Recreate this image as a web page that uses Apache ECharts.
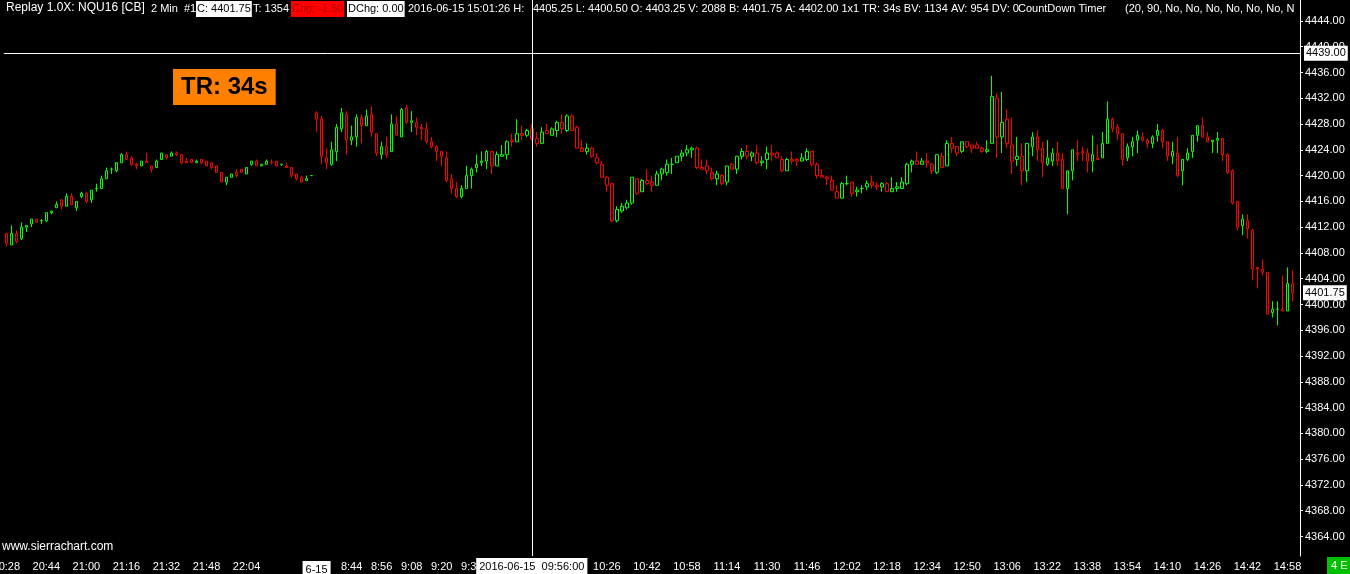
<!DOCTYPE html>
<html><head><meta charset="utf-8">
<script src="https://cdn.jsdelivr.net/npm/echarts@6/dist/echarts.min.js"></script>
<style>html,body{margin:0;padding:0;background:#000;}#c{width:1350px;height:574px;}</style>
</head><body><div id="c"></div>
<script>
// sessions: start time and number of 2-minute bars
const sessionStarts = ['20:28', '08:30'];
const sessionBars = [62, 196];

const opens = [
4411.0,4409.25,4411.0,4410.25,4412.0,4412.5,4413.25,4413.0,4413.0,4414.25,
4415.0,4416.25,4415.25,4416.75,4415.0,4416.75,4417.25,4416.25,4418.0,4418.0,
4419.5,4421.0,4420.75,4422.0,4423.25,4422.75,4421.75,4421.5,4422.25,4421.5,
4421.25,4422.5,4423.25,4423.0,4423.5,4423.25,4422.25,4422.5,4422.0,4422.5,
4422.25,4422.0,4421.5,4420.5,4419.0,4419.75,4420.5,4421.0,4420.25,4421.75,
4422.25,4421.5,4421.75,4422.0,4422.25,4421.75,4421.5,4421.25,4420.25,4419.75,
4419.25,4420.0,
4429.75,4428.75,4422.75,4421.75,4423.75,4427.25,4429.5,4425.5,4426.0,4429.0,
4427.75,4429.5,4426.5,4423.25,4424.5,4423.75,4428.0,4426.0,4430.5,4428.25,
4428.25,4427.5,4427.25,4425.25,4424.5,4423.75,4422.75,4419.5,4418.0,4416.75,
4418.0,4420.0,4421.25,4422.0,4422.25,4423.75,4421.5,4423.0,4423.25,4425.5,
4425.25,4426.5,4426.25,4427.25,4425.75,4425.0,4427.0,4426.25,4427.0,4428.25,
4427.0,4429.25,4427.5,4424.25,4423.75,4424.25,4422.75,4421.75,4419.75,4418.75,
4413.0,4414.5,4415.0,4415.75,4419.5,4417.5,4419.25,4419.0,4418.5,4420.25,
4420.5,4421.75,4422.0,4423.0,4423.5,4424.0,4424.25,4421.25,4421.5,4420.5,
4419.5,4420.0,4419.0,4421.75,4421.0,4423.0,4423.75,4423.0,4423.5,4422.0,
4422.5,4423.5,4423.5,4422.5,4420.75,4422.5,4422.5,4422.25,4422.5,4423.75,
4421.75,4420.0,4419.75,4419.25,4417.5,4416.5,4418.75,4419.0,4417.5,4418.0,
4418.25,4419.0,4418.5,4418.25,4418.75,4417.5,4418.0,4418.0,4418.75,4421.75,
4422.25,4421.75,4422.25,4421.75,4420.5,4423.0,4421.5,4425.0,4424.5,4423.75,
4425.25,4424.75,4424.75,4424.25,4423.75,4425.0,4432.0,4426.0,4428.75,4424.75,
4422.5,4423.0,4420.75,4424.5,4426.0,4424.25,4421.75,4422.25,4423.5,4422.5,
4418.0,4420.75,4423.5,4423.75,4423.5,4422.25,4422.75,4422.75,4425.0,4428.75,
4427.5,4426.5,4422.75,4424.5,4425.5,4426.0,4425.5,4425.0,4426.25,4427.0,
4425.25,4423.0,4423.5,4420.75,4422.5,4423.75,4426.25,4427.75,4426.0,4425.25,
4425.5,4425.75,4423.25,4420.75,4416.0,4412.25,4413.0,4411.5,4405.75,4405.5,
4405.0,4398.75,4399.25,4399.25,4399.0,4403.25
];
const closes = [
4409.5,4411.0,4409.75,4412.0,4412.25,4413.25,4412.75,4413.0,4414.25,4414.5,
4415.5,4415.25,4416.75,4415.5,4416.0,4417.25,4416.0,4417.75,4418.0,4419.5,
4420.75,4421.0,4422.0,4423.25,4422.5,4421.75,4421.5,4422.25,4422.0,4421.0,
4422.25,4423.5,4422.75,4423.5,4423.25,4422.0,4422.0,4422.0,4422.25,4422.0,
4421.5,4421.25,4420.5,4419.0,4419.75,4420.25,4420.0,4420.5,4421.25,4422.25,
4421.5,4421.75,4422.25,4422.0,4421.5,4421.75,4421.25,4420.0,4419.5,4419.0,
4419.5,4420.0,
4428.75,4423.0,4422.0,4424.0,4427.5,4429.75,4425.5,4426.0,4429.0,4427.75,
4429.25,4426.75,4423.5,4424.5,4423.25,4428.0,4426.25,4430.25,4428.25,4428.5,
4427.5,4427.25,4425.25,4424.5,4423.75,4423.0,4419.25,4418.0,4416.75,4418.0,
4420.0,4421.0,4421.75,4422.25,4423.75,4421.5,4423.25,4423.25,4425.25,4425.25,
4426.5,4426.25,4427.0,4425.75,4425.0,4426.75,4426.5,4427.25,4428.25,4427.25,
4429.25,4427.0,4424.25,4423.75,4424.25,4423.0,4422.0,4419.75,4418.5,4413.0,
4414.75,4415.25,4415.75,4419.75,4417.25,4419.25,4418.75,4418.5,4420.25,4421.0,
4421.75,4421.75,4423.0,4423.5,4424.0,4424.25,4421.25,4421.0,4420.75,4419.5,
4420.25,4418.75,4421.5,4421.0,4423.0,4423.75,4423.0,4423.5,4422.0,4422.25,
4423.5,4423.25,4422.75,4420.75,4422.5,4422.25,4422.25,4422.75,4423.75,4421.75,
4420.0,4419.75,4419.5,4417.75,4416.5,4418.75,4418.75,4417.25,4417.75,4418.0,
4418.75,4418.5,4418.25,4418.75,4417.5,4418.0,4418.25,4419.0,4421.75,4422.25,
4421.75,4422.25,4422.0,4420.75,4423.25,4421.25,4425.0,4424.25,4423.5,4425.25,
4424.5,4424.25,4424.25,4423.75,4424.0,4432.25,4426.0,4428.25,4425.0,4422.25,
4423.0,4420.75,4425.0,4426.0,4424.0,4422.0,4422.75,4423.5,4422.25,4418.0,
4420.75,4424.0,4423.25,4423.5,4422.25,4423.25,4422.5,4425.0,4428.75,4427.25,
4426.5,4422.5,4424.5,4425.25,4426.25,4425.5,4425.0,4426.0,4427.0,4425.25,
4423.0,4423.75,4420.0,4422.5,4423.5,4426.25,4427.75,4426.0,4425.25,4425.5,
4425.75,4423.25,4420.5,4415.75,4412.0,4413.25,4411.75,4405.5,4405.5,4405.0,
4398.5,4399.25,4399.25,4399.0,4403.25,4401.75
];
const lows = [
4409.0,4409.25,4409.5,4410.0,4411.25,4412.0,4412.75,4412.5,4412.75,4414.0,
4415.0,4414.75,4415.25,4415.5,4414.5,4416.5,4415.75,4415.75,4417.5,4418.0,
4419.5,4420.25,4420.5,4422.0,4422.5,4421.5,4421.0,4421.5,4422.0,4420.5,
4421.25,4422.5,4422.5,4423.0,4423.0,4421.75,4422.0,4422.0,4422.0,4421.75,
4421.5,4421.0,4420.5,4419.0,4418.5,4419.75,4419.75,4420.5,4420.25,4421.5,
4421.5,4421.5,4421.75,4421.75,4421.5,4421.5,4421.25,4419.75,4419.25,4419.0,
4419.25,4420.0,
4426.75,4421.75,4421.0,4421.5,4422.25,4426.75,4423.25,4424.75,4424.5,4425.0,
4427.75,4426.0,4423.0,4422.5,4422.75,4423.75,4426.25,4426.0,4428.0,4426.75,
4426.25,4425.5,4425.0,4424.25,4422.25,4421.5,4419.0,4417.25,4416.5,4416.5,
4418.0,4418.0,4420.5,4421.5,4421.0,4420.25,4421.5,4423.0,4422.5,4424.5,
4425.25,4425.5,4426.0,4425.5,4424.5,4425.0,4426.5,4426.25,4426.0,4426.5,
4426.75,4427.0,4424.25,4423.75,4423.25,4422.75,4421.75,4419.75,4417.5,4412.75,
4412.75,4414.25,4414.75,4415.5,4417.0,4417.5,4418.5,4417.5,4418.5,4419.25,
4420.0,4420.25,4422.0,4422.25,4423.0,4422.75,4421.0,4421.0,4420.25,4419.25,
4418.5,4418.5,4418.5,4421.0,4420.25,4422.5,4422.5,4422.25,4421.75,4421.5,
4421.0,4422.25,4422.75,4420.5,4420.75,4421.75,4421.5,4422.25,4422.25,4421.5,
4419.5,4419.75,4418.5,4417.75,4416.5,4416.5,4418.5,4416.75,4416.75,4417.25,
4417.75,4418.0,4417.75,4417.5,4417.5,4417.5,4417.5,4418.0,4418.5,4420.5,
4421.75,4421.75,4421.25,4420.25,4420.25,4421.25,4421.5,4423.5,4423.0,4423.5,
4424.25,4423.5,4424.25,4423.5,4423.5,4425.0,4422.75,4423.5,4424.25,4420.25,
4421.5,4418.5,4419.0,4423.0,4422.25,4419.75,4421.5,4421.5,4421.5,4418.0,
4414.0,4419.25,4422.25,4422.25,4420.5,4420.5,4422.5,4422.75,4425.0,4426.75,
4425.5,4421.5,4422.25,4423.0,4423.5,4425.25,4424.25,4424.25,4425.25,4424.25,
4422.25,4421.75,4419.75,4418.5,4422.25,4422.75,4425.25,4426.0,4425.25,4423.5,
4423.5,4422.25,4420.25,4415.5,4411.5,4410.75,4410.25,4403.75,4402.5,4404.5,
4398.5,4398.0,4396.75,4399.0,4399.0,4400.5
];
const highs = [
4411.0,4412.25,4411.5,4412.75,4412.25,4413.25,4413.25,4413.25,4414.25,4414.5,
4416.0,4416.25,4417.25,4417.25,4416.0,4417.5,4417.5,4417.75,4418.75,4420.0,
4421.25,4421.25,4422.0,4423.5,4423.75,4423.0,4422.0,4422.25,4423.5,4421.5,
4422.5,4423.5,4423.25,4423.75,4423.75,4423.25,4422.75,4422.5,4422.5,4422.5,
4422.25,4422.0,4421.5,4420.5,4419.75,4420.25,4421.0,4421.0,4421.25,4422.25,
4422.5,4421.75,4422.5,4422.5,4422.25,4421.75,4422.0,4421.25,4420.25,4420.0,
4420.0,4420.0,
4430.0,4429.25,4424.25,4425.25,4428.0,4430.5,4430.0,4427.75,4429.5,4429.5,
4430.25,4430.75,4426.5,4425.25,4426.0,4429.5,4429.25,4430.5,4431.0,4430.0,
4429.0,4428.0,4428.25,4426.0,4424.75,4423.75,4423.75,4420.25,4419.0,4418.5,
4421.5,4421.25,4423.25,4423.75,4424.0,4423.75,4423.75,4424.75,4425.5,4426.5,
4428.75,4427.75,4427.25,4428.0,4426.75,4427.5,4428.0,4427.5,4428.5,4429.5,
4429.5,4429.5,4427.75,4425.5,4425.0,4424.5,4423.5,4422.25,4420.0,4418.75,
4415.25,4415.75,4416.25,4419.75,4419.5,4419.5,4421.0,4420.0,4420.75,4421.25,
4422.5,4422.75,4423.0,4424.0,4424.75,4424.5,4424.5,4422.5,4422.5,4421.25,
4420.75,4420.25,4421.5,4422.0,4423.0,4424.25,4424.75,4423.75,4424.75,4423.0,
4424.5,4424.75,4423.75,4423.0,4422.75,4423.75,4422.75,4423.5,4424.25,4423.75,
4422.0,4421.0,4420.0,4420.0,4418.5,4419.0,4420.0,4419.0,4418.25,4418.5,
4419.25,4420.0,4419.0,4419.0,4419.0,4419.75,4419.0,4419.75,4422.0,4422.5,
4423.75,4422.75,4423.5,4422.0,4423.25,4423.5,4425.5,4426.0,4424.5,4425.25,
4425.25,4424.75,4425.25,4424.5,4425.5,4435.5,4432.75,4433.0,4430.25,4429.0,
4426.0,4425.0,4425.0,4426.75,4427.0,4425.25,4425.5,4424.25,4425.25,4423.5,
4420.75,4424.0,4425.5,4424.5,4424.25,4426.25,4424.75,4426.75,4431.5,4429.0,
4428.0,4426.5,4425.0,4426.0,4427.0,4426.75,4425.75,4426.25,4428.0,4427.25,
4425.25,4425.25,4426.0,4422.5,4424.25,4426.25,4427.75,4429.0,4426.75,4425.5,
4426.75,4425.75,4423.5,4421.0,4416.0,4414.0,4414.0,4411.75,4405.75,4407.0,
4405.0,4400.5,4400.5,4404.5,4405.75,4405.25
];

// axis tick labels: category time -> shown text
const tickTimes = ['20:28','20:44','21:00','21:16','21:32','21:48','22:04','08:30','08:44','08:56','09:08','09:20','09:32',
  '10:26','10:42','10:58','11:14','11:30','11:46','12:02','12:18','12:34','12:50','13:06','13:22','13:38','13:54','14:10','14:26','14:42','14:58'];
const tickTexts = ['20:28','20:44','21:00','21:16','21:32','21:48','22:04','6-15','8:44','8:56','9:08','9:20','9:32',
  '10:26','10:42','10:58','11:14','11:30','11:46','12:02','12:18','12:34','12:50','13:06','13:22','13:38','13:54','14:10','14:26','14:42','14:58'];
const priceTicks = [4364,4368,4372,4376,4380,4384,4388,4392,4396,4400,4404,4408,4412,4416,4420,4424,4428,4432,4436,4440,4444];

const cursorTime = '09:56';
const cursorLabel = '2016-06-15  09:56:00';
const cursorPrice = 4439.00;

// build categories
function pad(n){return (n<10?'0':'')+n;}
const categories = [];
sessionStarts.forEach((s, si) => {
  let [h, m] = s.split(':').map(Number);
  let t = h * 60 + m;
  for (let i = 0; i < sessionBars[si]; i++) {
    const tt = t + 2 * i;
    categories.push(pad(Math.floor(tt / 60) % 24) + ':' + pad(tt % 60));
  }
});
const cats = categories.concat(['']);
const tickMap = {};
tickTimes.forEach((t, i) => tickMap[t] = tickTexts[i]);

const candleData = opens.map((o, i) => [o, closes[i], lows[i], highs[i]]);
const n = opens.length;
const lastO = opens[n-1], lastC = closes[n-1], lastH = highs[n-1], lastL = lows[n-1];

const FONT = '"Liberation Sans", Arial, sans-serif';
const F11 = '11px ' + FONT;
const chart = echarts.init(document.getElementById('c'));
chart.setOption({
  backgroundColor: '#000',
  animation: false,
  grid: { left: 3.8, right: 50, top: 0, bottom: 18, containLabel: false, outerBoundsMode: 'none' },
  xAxis: {
    type: 'category',
    data: cats,
    boundaryGap: true,
    axisLine: { show: false },
    axisTick: { show: false },
    splitLine: { show: false },
    axisLabel: {
      color: '#fff', fontSize: 11, fontFamily: FONT, margin: 5, hideOverlap: false,
      interval: (i, v) => tickMap[v] !== undefined,
      formatter: (v) => v === '08:30' ? '{b|' + tickMap[v] + '}' : (tickMap[v] || ''),
      rich: { b: { backgroundColor: '#fff', color: '#000', padding: [3, 3, 2, 3], fontSize: 11, fontFamily: FONT } }
    },
    axisPointer: {
      show: true, status: 'show', value: categories.indexOf(cursorTime), type: 'line', snap: false,
      triggerTooltip: false,
      lineStyle: { color: '#fff', width: 1, type: 'solid' },
      label: { show: true, formatter: () => cursorLabel, backgroundColor: '#fff', color: '#000',
        fontSize: 11, fontFamily: FONT, padding: [3, 3, 2, 3], margin: 2, borderRadius: 0, shadowBlur: 0 }
    }
  },
  yAxis: {
    type: 'value', position: 'right', scale: true,
    min: 4360.97, max: 4447.25,
    axisLine: { show: true, lineStyle: { color: '#fff', width: 1 } },
    axisTick: { show: true, length: 3, customValues: priceTicks, lineStyle: { color: '#fff' } },
    splitLine: { show: false },
    axisLabel: { customValues: priceTicks, color: '#fff', fontSize: 11, fontFamily: FONT, margin: 5,
      formatter: (v) => v.toFixed(2) },
    axisPointer: {
      show: true, status: 'show', value: cursorPrice, type: 'line', triggerTooltip: false,
      lineStyle: { color: '#fff', width: 1, type: 'solid' },
      label: { show: true, formatter: () => cursorPrice.toFixed(2), backgroundColor: '#fff', color: '#000',
        fontSize: 11, fontFamily: FONT, padding: [2, 2, 2, 2], margin: 4, borderRadius: 0, shadowBlur: 0 }
    }
  },
  series: [{
    type: 'candlestick',
    data: candleData,
    barWidth: 3,
    itemStyle: { color: '#000', color0: '#000', borderColor: '#00ff00', borderColor0: '#ff0000', borderWidth: 1 }
  }],
  graphic: [
    { type: 'text', left: 6, top: 2, style: { text: 'Replay 1.0X: NQU16 [CB]', fill: '#fff', font: '12px ' + FONT } },
    { type: 'text', left: 151, top: 3, style: { text: '2 Min', fill: '#fff', font: F11 } },
    { type: 'text', left: 184, top: 3, style: { text: '#1', fill: '#fff', font: F11 } },
    { type: 'text', left: 196, top: 1, style: { text: 'C: ' + lastC.toFixed(2), fill: '#000', backgroundColor: '#fff', padding: [2, 1, 3, 1], font: F11 } },
    { type: 'text', left: 253, top: 3, style: { text: 'T: 1354', fill: '#fff', font: F11 } },
    { type: 'text', left: 291, top: 1, style: { text: 'Chg: ' + (lastC - lastO).toFixed(2), fill: '#b00000', backgroundColor: '#ff0000', padding: [2, 1, 3, 1], font: F11 } },
    { type: 'text', left: 347, top: 1, style: { text: 'DChg: 0.00', fill: '#000', backgroundColor: '#fff', padding: [2, 1, 3, 1], font: F11 } },
    { type: 'text', left: 408, top: 3, style: { text: '2016-06-15 15:01:26 H:', fill: '#fff', font: F11 } },
    { type: 'text', left: 533, top: 3, style: { text: lastH.toFixed(2) + ' L: ' + lastL.toFixed(2) + ' O: ' + lastO.toFixed(2) + ' V: 2088 B: 4401.75 A: 4402.00 1x1 TR: 34s BV: 1134 AV: 954 DV: 0', fill: '#fff', font: F11 } },
    { type: 'text', left: 1018, top: 3, style: { text: 'CountDown Timer', fill: '#fff', font: F11 } },
    { type: 'text', left: 1125, top: 3, style: { text: '(20, 90, No, No, No, No, No, No, No, No)', fill: '#fff', font: F11, width: 175, overflow: 'truncate', ellipsis: '' } },
    { type: 'text', left: 173, top: 69, style: { text: 'TR: 34s', fill: '#000', backgroundColor: '#ff8000', padding: [6, 8, 6, 8], font: 'bold 24px ' + FONT } },
    { type: 'text', left: 2, top: 541, style: { text: 'www.sierrachart.com', fill: '#fff', font: '12px ' + FONT } },
    { type: 'text', left: 1327, top: 557, style: { text: '4 E', fill: '#fff', backgroundColor: '#00c000', padding: [3, 4, 3, 4], font: F11 } }
  ]
});
// last price marker on the price axis, placed through the axis scale
const yLast = chart.convertToPixel({ yAxisIndex: 0 }, lastC);
chart.setOption({ graphic: [{ id: 'lastPx', type: 'text', left: 1303, top: yLast - 8,
  style: { text: lastC.toFixed(2), fill: '#000', backgroundColor: '#fff', padding: [2, 2, 2, 2], font: F11 } }] });
</script></body></html>
